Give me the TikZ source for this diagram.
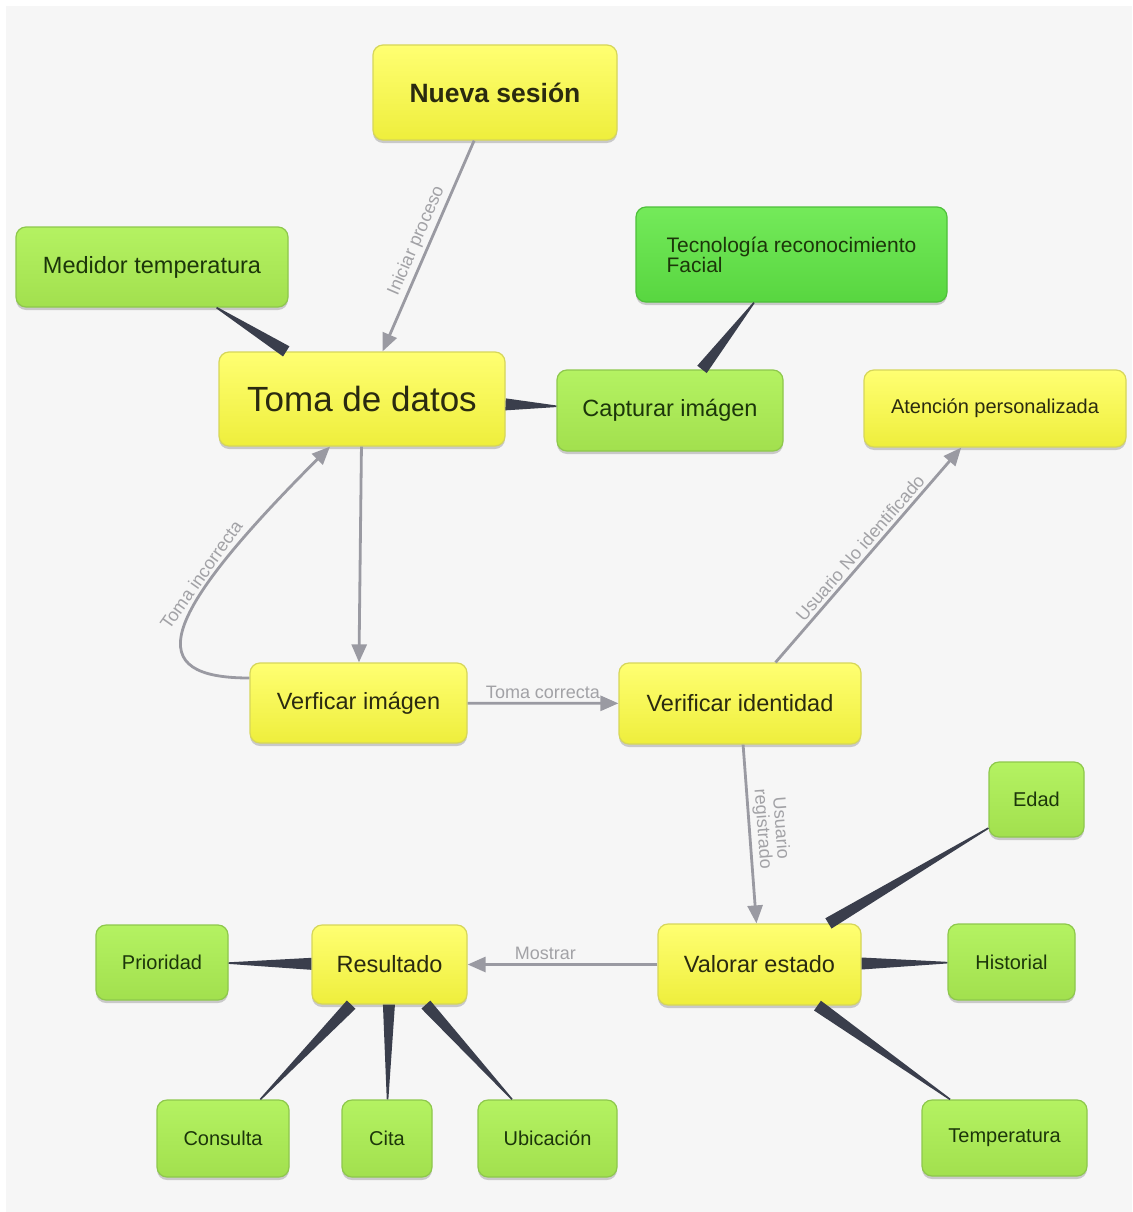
\documentclass[tikz,border=0pt]{standalone}
\usepackage{fontspec}
\setmainfont{Liberation Sans}
\usetikzlibrary{arrows.meta,calc,shadows}
\definecolor{bgc}{HTML}{F6F6F6}
\definecolor{ytop}{HTML}{FFFF72}
\definecolor{ybot}{HTML}{EEEE3C}
\definecolor{yborder}{HTML}{D6D65A}
\definecolor{ytext}{HTML}{2A2A10}
\definecolor{gtop}{HTML}{B4F262}
\definecolor{gbot}{HTML}{A2E04E}
\definecolor{gborder}{HTML}{8EC84C}
\definecolor{gtext}{HTML}{1C360A}
\definecolor{ttop}{HTML}{74EA5A}
\definecolor{tbot}{HTML}{58D640}
\definecolor{tborder}{HTML}{4EC03A}
\definecolor{linkc}{HTML}{9A9AA2}
\definecolor{labc}{HTML}{A2A2A6}
\definecolor{wedgec}{HTML}{3A3E4C}
\newcommand\tlink[2]{%
  \path (#1) -- (#2) coordinate[pos=0] (w1) coordinate[pos=1] (w2);
  \fill[wedgec] ($(w1)!6pt!90:(w2)$) -- ($(w1)!6pt!-90:(w2)$)
     -- ($(w2)!0.8pt!90:(w1)$) -- ($(w2)!0.8pt!-90:(w1)$) -- cycle;}
\begin{document}
\begin{tikzpicture}[x=1pt,y=1pt,
  base/.style={rectangle, rounded corners=10pt, inner sep=0pt, line width=1.2pt,
     drop shadow={shadow xshift=0pt, shadow yshift=-3pt, opacity=0.18, fill=black}},
  ynode/.style={base, draw=yborder, top color=ytop, bottom color=ybot, text=ytext},
  gnode/.style={base, draw=gborder, top color=gtop, bottom color=gbot, text=gtext},
  tnode/.style={base, draw=tborder, top color=ttop, bottom color=tbot, text=gtext},
  fbig/.style={font=\fontsize{35}{40}\selectfont},
  fbold/.style={font=\fontsize{26.5}{30}\selectfont\bfseries},
  fmed/.style={font=\fontsize{23.5}{27}\selectfont},
  fsmall/.style={font=\fontsize{20}{23}\selectfont},
  link/.style={draw=linkc, line width=2.8pt, -{Triangle[length=18pt,width=15pt]}},
  lab/.style={font=\fontsize{18}{18}\selectfont, text=labc, sloped, above, inner sep=3pt}
]
\useasboundingbox (0,0) rectangle (1132,-1212);
\fill[white] (0,0) rectangle (1132,-1212);
\fill[bgc] (6,-6) rectangle (1132,-1212);

% nodes
\node[ynode, fbold, minimum width=244pt, minimum height=95pt] (nueva) at (495,-92.5) {Nueva sesión};
\node[gnode, fmed, minimum width=272pt, minimum height=80pt] (medidor) at (152,-267) {Medidor temperatura};
\node[ynode, fbig, minimum width=286pt, minimum height=94pt] (toma) at (362,-399) {Toma de datos};
\node[gnode, fmed, minimum width=226pt, minimum height=81pt] (captura) at (670,-410.5) {Capturar imágen};
\node[tnode, font=\fontsize{21}{20}\selectfont, align=left, minimum width=311pt, minimum height=95pt] (tecno) at (791.5,-254.5) {Tecnología reconocimiento\\Facial};
\node[ynode, fsmall, minimum width=262pt, minimum height=77pt] (atencion) at (995,-408.5) {Atención personalizada};
\node[ynode, fmed, minimum width=217pt, minimum height=80pt] (verimg) at (358.5,-703) {Verficar imágen};
\node[ynode, fmed, minimum width=242pt, minimum height=81pt] (verid) at (740,-703.5) {Verificar identidad};
\node[gnode, fsmall, minimum width=95pt, minimum height=75pt] (edad) at (1036.5,-799.5) {Edad};
\node[ynode, fmed, minimum width=203pt, minimum height=81pt] (valorar) at (759.5,-964.5) {Valorar estado};
\node[gnode, fsmall, minimum width=127pt, minimum height=76pt] (historial) at (1011.5,-962) {Historial};
\node[gnode, fsmall, minimum width=165pt, minimum height=76pt] (temp) at (1004.5,-1138) {Temperatura};
\node[gnode, fsmall, minimum width=132pt, minimum height=75pt] (prioridad) at (162,-962.5) {Prioridad};
\node[ynode, fmed, minimum width=155pt, minimum height=79pt] (resultado) at (389.5,-964.5) {Resultado};
\node[gnode, fsmall, minimum width=132pt, minimum height=77pt] (consulta) at (223,-1138.5) {Consulta};
\node[gnode, fsmall, minimum width=90pt, minimum height=77pt] (cita) at (387,-1138.5) {Cita};
\node[gnode, fsmall, minimum width=139pt, minimum height=77pt] (ubicacion) at (547.5,-1138.5) {Ubicación};

% tapered links (thick end at first node)
\tlink{toma}{medidor}
\tlink{toma}{captura}
\tlink{captura}{tecno}
\tlink{valorar}{edad}
\tlink{valorar}{historial}
\tlink{valorar}{temp}
\tlink{resultado}{prioridad}
\tlink{resultado}{consulta}
\tlink{resultado}{cita}
\tlink{resultado}{ubicacion}

% arrows
\draw[link] (nueva) -- node[lab, pos=0.5] {Iniciar proceso} (toma);
\draw[link] (toma) -- (verimg);
\draw[link] (verimg) -- node[lab, pos=0.5] {Toma correcta} (verid);
\draw[link] (verid) -- node[lab, pos=0.5] {Usuario No identificado} (atencion);
\draw[link] (verid) -- node[lab, pos=0.48, align=center] {Usuario\\registrado} (valorar);
\draw[link] (valorar) -- node[lab, pos=0.59] {Mostrar} (resultado);
\draw[link] ([yshift=25pt]verimg.west) .. controls +(180:105) and +(225:250) .. ([xshift=-32pt]toma.south)
   node[lab, pos=0.68] {Toma incorrecta};
\end{tikzpicture}
\end{document}
